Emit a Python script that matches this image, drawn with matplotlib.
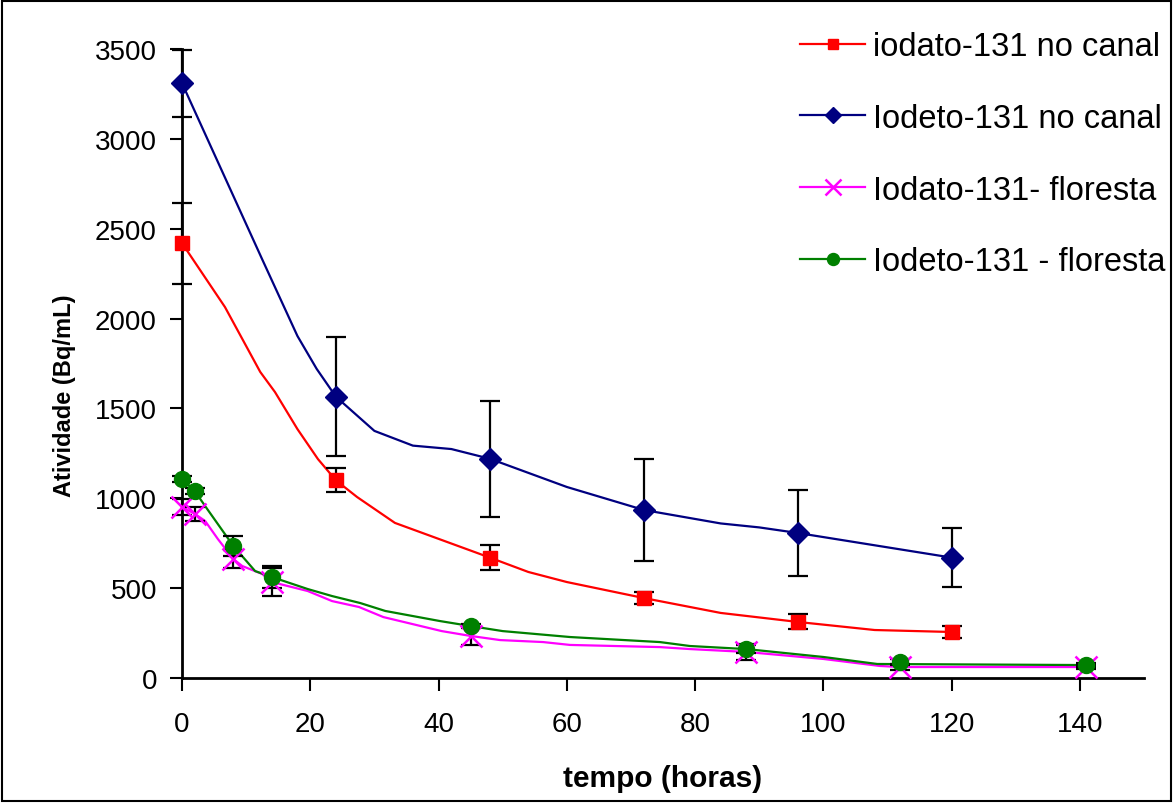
import numpy as np
import matplotlib.pyplot as plt
from matplotlib.patches import Rectangle

plt.rcParams['font.family'] = ['Liberation Sans', 'DejaVu Sans']

# medidas no canal (marcadores + barras de erro)
t_canal = [0, 24, 48, 72, 96, 120]
iodato_canal = [2420, 1100, 670, 445, 312, 256]
iodato_canal_err = [225, 67, 70, 36, 42, 34]
iodeto_canal = [3310, 1565, 1220, 935, 807, 670]
iodeto_canal_err = [187, 332, 323, 284, 240, 165]

# medidas na floresta
t_floresta = [0, 2, 8, 14, 45, 88, 112, 141]
iodato_floresta = [952, 913, 662, 534, 234, 145, 61, 61]
iodato_floresta_err = [45, 40, 50, 80, 50, 45, 15, 10]
iodeto_floresta = [1107, 1040, 735, 562, 289, 161, 89, 72]
iodeto_floresta_err = [15, 15, 55, 60, 10, 20, 15, 12]

# curvas ajustadas (sem marcadores)
curva_iodato_canal_t = [0, 6.7, 12.2, 14.5, 18, 21.2, 24, 27.3, 33.2, 48, 54, 60, 72, 84, 96, 108, 120]
curva_iodato_canal = [2420, 2064, 1703, 1591, 1385, 1218, 1100, 1007, 863, 670, 590, 534, 445, 362, 312, 267, 256]
curva_iodeto_canal_t = [0, 12.5, 18, 21, 24, 30, 36, 42, 48, 60, 72, 84, 90, 96, 120]
curva_iodeto_canal = [3310, 2330, 1903, 1720, 1565, 1375, 1293, 1274, 1220, 1063, 935, 860, 838, 807, 670]
curva_iodato_floresta_t = [0, 2, 3.6, 5.6, 8, 9.4, 12.5, 14, 19.6, 23.4, 27.6, 31.4, 40.5, 45, 49.6,
                           56.3, 60.5, 74.5, 79.2, 88, 100, 108.8, 112, 141]
curva_iodato_floresta = [952, 913, 874, 773, 662, 623, 579, 534, 484, 428, 395, 339, 261, 234, 211,
                         200, 184, 172, 161, 145, 106, 67, 61, 61]
curva_iodeto_floresta_t = [0, 2, 3.6, 8, 11.4, 14, 19.6, 23.4, 27.8, 31.7, 40.2, 45, 50, 60.5,
                           74.5, 79.2, 88, 100, 108.4, 141]
curva_iodeto_floresta = [1107, 1040, 957, 735, 595, 562, 495, 456, 417, 373, 317, 289, 261, 228,
                         200, 178, 161, 117, 78, 72]

labels = ['iodato-131 no canal', 'Iodeto-131 no canal',
          'Iodato-131- floresta', 'Iodeto-131 - floresta']

fig = plt.figure(figsize=(11.75, 8.04), dpi=100)
ax = fig.add_axes([182/1175, 1 - 679/804, 962/1175, 629/804])

series = [
    (curva_iodato_canal_t, curva_iodato_canal, t_canal, iodato_canal, iodato_canal_err,
     '#FF0000', 's', 10, 1.0),
    (curva_iodeto_canal_t, curva_iodeto_canal, t_canal, iodeto_canal, iodeto_canal_err,
     '#000080', 'D', 11, 1.0),
    (curva_iodato_floresta_t, curva_iodato_floresta, t_floresta, iodato_floresta, iodato_floresta_err,
     '#FF00FF', 'x', 16, 1.8),
    (curva_iodeto_floresta_t, curva_iodeto_floresta, t_floresta, iodeto_floresta, iodeto_floresta_err,
     '#008000', 'o', 11.5, 1.0),
]

handles = []
for lt, ly, mt, my, me, c, m, ms, mew in series:
    ax.plot(lt, ly, color=c, lw=1.6, zorder=2, clip_on=False)
    ax.errorbar(mt, my, yerr=me, fmt='none', ecolor='black', elinewidth=1.6,
                capsize=7, capthick=1.6, zorder=3, clip_on=False)
    ax.plot(mt, my, ls='none', marker=m, ms=ms, color=c, mec=c, mew=mew,
            zorder=4, clip_on=False)
    h, = ax.plot([], [], color=c, lw=1.6, marker=m, ms=ms * 0.75, mec=c, mew=mew)
    handles.append(h)

ax.set_xlim(0, 150)
ax.set_ylim(0, 3500)
ax.set_xticks(np.arange(0, 141, 20))
ax.set_yticks(np.arange(0, 3501, 500))
ax.tick_params(labelsize=20, width=1.5, length=9, direction='out')
ax.tick_params(axis='x', pad=15)
ax.tick_params(axis='y', pad=9)
for s in ['top', 'right']:
    ax.spines[s].set_visible(False)
for s in ['left', 'bottom']:
    ax.spines[s].set_linewidth(2)

ax.set_xlabel('tempo (horas)', fontsize=21.5, fontweight='bold')
ax.set_ylabel('Atividade (Bq/mL)', fontsize=17, fontweight='bold')
ax.xaxis.set_label_coords(0.5, -0.136)
ax.yaxis.set_label_coords(-0.11, 0.45)

fig.legend(handles, labels, loc='upper left', bbox_to_anchor=(800/1175, 1 - 32/804),
           frameon=False, fontsize=23.5, handlelength=2.0, handletextpad=0.25,
           labelspacing=1.25, borderpad=0, borderaxespad=0)

fig.patches.append(Rectangle((0.0015, 0.002), 0.995, 0.996, transform=fig.transFigure,
                             fill=False, edgecolor='black', lw=1.5))

fig.savefig('out.png', dpi=100)
